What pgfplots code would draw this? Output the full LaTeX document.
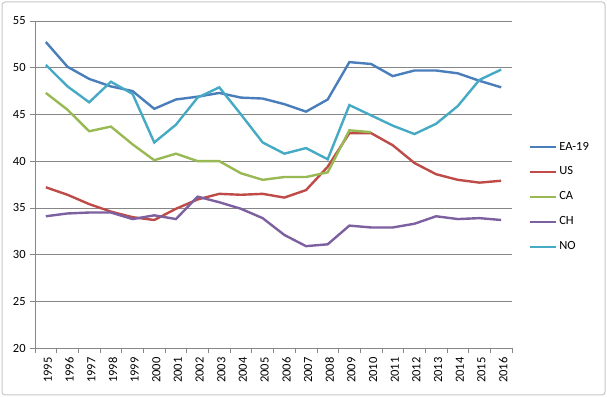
\documentclass[border=0pt]{standalone}
\usepackage{fontspec}
\setmainfont{Carlito}
\usepackage{pgfplots}
\pgfplotsset{compat=1.18}
\definecolor{cea}{HTML}{4A7EBB}
\definecolor{cus}{HTML}{BE4B48}
\definecolor{cca}{HTML}{98B954}
\definecolor{cch}{HTML}{7D60A0}
\definecolor{cno}{HTML}{46AAC5}
\definecolor{gridc}{HTML}{868686}
\begin{document}
\fontsize{12.5bp}{15bp}\selectfont
\begin{tikzpicture}
\path[use as bounding box] (0,0) rectangle (607bp,397bp);
\draw[gray!45, line width=1bp, rounded corners=3bp] (2bp,2bp) rectangle (605bp,395bp);
\begin{axis}[
  at={(35bp,49bp)}, anchor=south west,
  scale only axis, width=477bp, height=327bp,
  xmin=-0.5, xmax=21.5, ymin=20, ymax=55,
  ytick={20,25,...,55},
  ymajorgrids,
  grid style={color=gridc, line width=0.7bp},
  axis x line*=bottom, axis y line*=left,
  axis line style={gridc, line width=0.7bp, -},
  tick align=outside,
  major tick length=5bp,
  ytick style={gridc, line width=0.7bp},
  xtick={0,...,21},
  xticklabels={1995,1996,1997,1998,1999,2000,2001,2002,2003,2004,2005,2006,2007,2008,2009,2010,2011,2012,2013,2014,2015,2016},
  xtick style={draw=none},
  extra x ticks={-0.5,0.5,1.5,2.5,3.5,4.5,5.5,6.5,7.5,8.5,9.5,10.5,11.5,12.5,13.5,14.5,15.5,16.5,17.5,18.5,19.5,20.5,21.5},
  extra x tick labels={},
  extra x tick style={xtick style={draw=gridc, line width=0.7bp}, major tick length=5bp},
  xticklabel style={rotate=90, anchor=east, yshift=-2bp, font=\fontsize{12.5bp}{15bp}\selectfont},
  yticklabel style={font=\fontsize{12.5bp}{15bp}\selectfont},
  /pgf/number format/assume math mode=true,
  every axis plot/.append style={line width=2.4bp, mark=none},
  legend style={at={(1.035,0.637)}, anchor=north west, draw=none, fill=none,
    font=\fontsize{12.5bp}{15bp}\selectfont, row sep=11bp, inner sep=0pt,
    cells={anchor=west}},
  legend image code/.code={\draw[#1] (0bp,0bp) -- (26bp,0bp);},
]
\addplot[cea] coordinates {(0,52.75)(1,50.1)(2,48.8)(3,48.0)(4,47.5)(5,45.6)(6,46.6)(7,46.9)(8,47.3)(9,46.8)(10,46.7)(11,46.1)(12,45.3)(13,46.6)(14,50.6)(15,50.4)(16,49.1)(17,49.7)(18,49.7)(19,49.4)(20,48.6)(21,47.9)};
\addlegendentry{EA-19}
\addplot[cus] coordinates {(0,37.2)(1,36.4)(2,35.4)(3,34.6)(4,34.0)(5,33.7)(6,34.9)(7,35.9)(8,36.5)(9,36.4)(10,36.5)(11,36.1)(12,36.9)(13,39.4)(14,43.0)(15,43.0)(16,41.7)(17,39.8)(18,38.6)(19,38.0)(20,37.7)(21,37.9)};
\addlegendentry{US}
\addplot[cca] coordinates {(0,47.3)(1,45.5)(2,43.2)(3,43.7)(4,41.8)(5,40.1)(6,40.8)(7,40.0)(8,40.0)(9,38.7)(10,38.0)(11,38.3)(12,38.3)(13,38.8)(14,43.3)(15,43.1)};
\addlegendentry{CA}
\addplot[cch] coordinates {(0,34.1)(1,34.4)(2,34.5)(3,34.5)(4,33.8)(5,34.2)(6,33.8)(7,36.2)(8,35.6)(9,34.9)(10,33.9)(11,32.1)(12,30.9)(13,31.1)(14,33.1)(15,32.9)(16,32.9)(17,33.3)(18,34.1)(19,33.8)(20,33.9)(21,33.7)};
\addlegendentry{CH}
\addplot[cno] coordinates {(0,50.3)(1,48.0)(2,46.3)(3,48.5)(4,47.2)(5,42.0)(6,43.9)(7,46.8)(8,47.9)(9,45.0)(10,42.0)(11,40.8)(12,41.4)(13,40.2)(14,46.0)(15,44.9)(16,43.8)(17,42.9)(18,44.0)(19,45.9)(20,48.7)(21,49.8)};
\addlegendentry{NO}
\end{axis}
\end{tikzpicture}
\end{document}
